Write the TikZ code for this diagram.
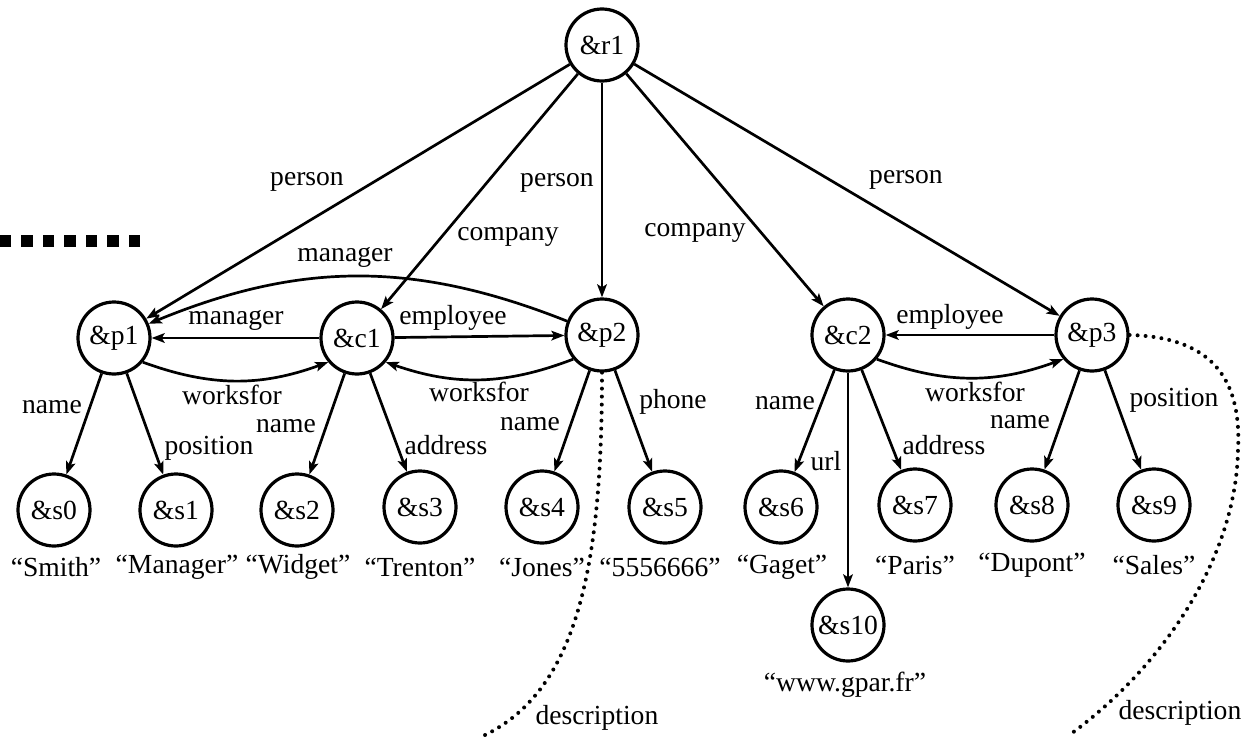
\documentclass[tikz,border=0pt]{standalone}
\usepackage{fontspec}
\setmainfont{Liberation Serif}
\usetikzlibrary{arrows.meta}
\begin{document}
\begin{tikzpicture}[x=0.5pt,y=0.5pt,
  txt/.style={font=\fontsize{13.8}{16}\selectfont},
  obj/.style={circle,draw,line width=1.6pt,minimum size=36pt,inner sep=0pt,txt},
  edge/.style={line width=1.35pt,-{Stealth[length=6.5pt,width=4.8pt,inset=1.4pt]}},
  lbl/.style={inner sep=0pt,txt},
  desc/.style={line width=2pt,line cap=round,dash pattern=on 0pt off 4pt},
]
\useasboundingbox (0,0) rectangle (1260,736);

% marker bar at the left margin
\draw[line width=5.6pt,dash pattern=on 5.75pt off 5pt] (140,495) -- (0,495);

% objects
\node[obj] (r1) at (602,691) {\&r1};
\node[obj] (p1) at (114,398) {\&p1};
\node[obj] (c1) at (357,398) {\&c1};
\node[obj] (p2) at (602,401) {\&p2};
\node[obj] (c2) at (848,401) {\&c2};
\node[obj] (p3) at (1092,401) {\&p3};

\node[obj] (s0) at (54,226) {\&s0};
\node[obj] (s1) at (176,226) {\&s1};
\node[obj] (s2) at (297,226) {\&s2};
\node[obj] (s3) at (420,229) {\&s3};
\node[obj] (s4) at (542,229) {\&s4};
\node[obj] (s5) at (665,229) {\&s5};
\node[obj] (s6) at (781,229) {\&s6};
\node[obj] (s7) at (915,231) {\&s7};
\node[obj] (s8) at (1032,231) {\&s8};
\node[obj] (s9) at (1154,231) {\&s9};
\node[obj] (s10) at (848,111) {\&s10};

% atomic values
\node[lbl] (v0) at (56,169) {“Smith”};
\node[lbl] (v1) at (177,169) {“Manager”};
\node[lbl] (v2) at (298,169) {“Widget”};
\node[lbl] (v3) at (420,169) {“Trenton”};
\node[lbl] (v4) at (542,169) {“Jones”};
\node[lbl] (v5) at (660,169) {“5556666”};
\node[lbl] (v6) at (782,169) {“Gaget”};
\node[lbl] (v7) at (915,171) {“Paris”};
\node[lbl] (v8) at (1032,171) {“Dupont”};
\node[lbl] (v9) at (1154,171) {“Sales”};
\node[lbl] (v10) at (845,51) {“www.gpar.fr”};

% root edges
\draw[edge] (r1) -- (p1);
\draw[edge] (r1) -- (c1);
\draw[edge] (r1) -- (p2);
\draw[edge] (r1) -- (c2);
\draw[edge] (r1) -- (p3);

% references between objects
\draw[edge] (c1) -- (p1);
\draw[edge] (c1) -- (p2);
\draw[edge] (p2) to[bend right=22] (p1);
\draw[edge] (p1.-40) to[bend right=20] (c1.220);
\draw[edge] (p2.220) to[bend left=20] (c1.-40);
\draw[edge] (p3) -- (c2);
\draw[edge] (c2.-40) to[bend right=20] (p3.220);

% edges to atomic values
\draw[edge] (p1) -- (s0);
\draw[edge] (p1) -- (s1);
\draw[edge] (c1) -- (s2);
\draw[edge] (c1) -- (s3);
\draw[edge] (p2) -- (s4);
\draw[edge] (p2) -- (s5);
\draw[edge] (c2) -- (s6);
\draw[edge] (c2) -- (s10);
\draw[edge] (c2) -- (s7);
\draw[edge] (p3) -- (s8);
\draw[edge] (p3) -- (s9);

% description links
\draw[desc] (p2.south) .. controls (602,176) and (580,46) .. (483,0);
\draw[desc] (p3.east) .. controls (1208,399) and (1242,361) .. (1238,286)
  .. controls (1236,176) and (1160,66) .. (1068,0);

% edge labels
\node[lbl] (lp1) at (307,554) {person};
\node[lbl] (lp2) at (557,553) {person};
\node[lbl] (lp3) at (906,556) {person};
\node[lbl] (lc1) at (508,499) {company};
\node[lbl] (lc2) at (695,503) {company};
\node[lbl] (lm1) at (345,479) {manager};
\node[lbl] (lm2) at (236,416) {manager};
\node[lbl] (le1) at (453,418) {employee};
\node[lbl] (lw1) at (232,341) {worksfor};
\node[lbl] (lw2) at (479,344) {worksfor};
\node[lbl] (le2) at (950,419) {employee};
\node[lbl] (lw3) at (975,344) {worksfor};
\node[lbl] (ln0) at (52,329) {name};
\node[lbl] (lpo1) at (209,288) {position};
\node[lbl] (ln2) at (286,310) {name};
\node[lbl] (lad1) at (446,291) {address};
\node[lbl] (ln4) at (530,312) {name};
\node[lbl] (lph) at (673,334) {phone};
\node[lbl] (ln6) at (785,333) {name};
\node[lbl] (lurl) at (826,275) {url};
\node[lbl] (lad2) at (944,291) {address};
\node[lbl] (ln8) at (1020,314) {name};
\node[lbl] (lpo2) at (1174,336) {position};
\node[lbl] (ld1) at (597,18) {description};
\node[lbl] (ld2) at (1180,23) {description};
\end{tikzpicture}
\end{document}
